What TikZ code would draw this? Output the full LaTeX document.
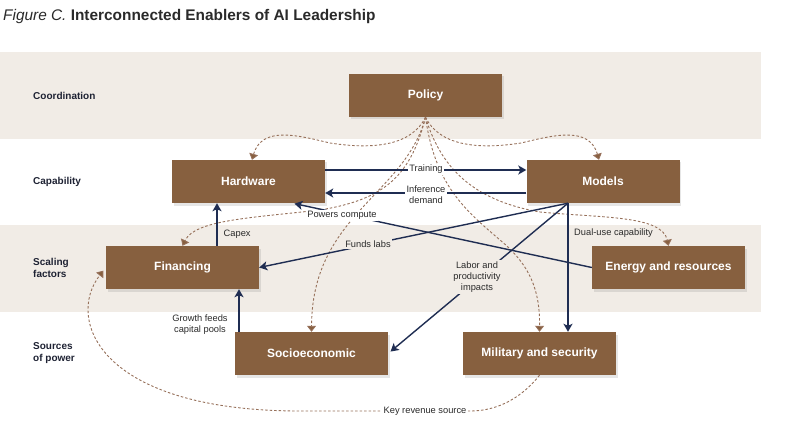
\documentclass[tikz,border=0pt]{standalone}
\usepackage{fontspec}
\setmainfont{Liberation Sans}
\usetikzlibrary{arrows.meta,shadows}
\definecolor{band}{HTML}{F1ECE6}
\definecolor{boxbrown}{HTML}{87603F}
\definecolor{navy}{HTML}{1F2D52}
\definecolor{dashbrown}{HTML}{96705A}
\definecolor{txt}{HTML}{2A2A2A}
\definecolor{rowtxt}{HTML}{1E2233}
\begin{document}
\begin{tikzpicture}[x=1pt,y=-1pt,
 enabler/.style={fill=boxbrown, text=white, font=\bfseries\fontsize{12}{14}\selectfont, minimum width=153pt, minimum height=43pt, inner sep=0pt, drop shadow={shadow xshift=1.5pt, shadow yshift=-2.5pt, opacity=0.2}},
 rowlabel/.style={anchor=west, align=left, text=rowtxt, font=\bfseries\fontsize{10}{12}\selectfont, inner sep=0pt},
 linklabel/.style={text=txt, font=\fontsize{9.3}{10.8}\selectfont, align=center, inner sep=1.5pt},
 solidlink/.style={draw=navy, line width=1.4pt, -{Stealth[length=8pt,width=9pt,inset=2pt]}},
 influence/.style={draw=dashbrown, line width=0.9pt, dash pattern=on 2.5pt off 2pt, -{Triangle[length=6pt,width=9pt,fill=boxbrown]}},
]
\useasboundingbox (0,0) rectangle (790,433);
\fill[band] (0,52) rectangle (761,139);
\fill[band] (0,225) rectangle (761,312);

\node[anchor=base west, inner sep=0pt, font=\fontsize{15.4}{18}\selectfont, text=txt] (title) at (3,21) {\textit{Figure C.} \textbf{Interconnected Enablers of AI Leadership}};

\node[rowlabel] (rcoord) at (33,96) {Coordination};
\node[rowlabel] (rcap) at (33,182) {Capability};
\node[rowlabel] (rscale) at (33,268) {Scaling\\factors};
\node[rowlabel] (rsrc) at (33,353) {Sources\\of power};

\node[enabler] (pol) at (425.5,95.5) {Policy};
\node[enabler] (hw) at (248.5,181.5) {Hardware};
\node[enabler] (md) at (603,181.5) {Models};
\node[enabler] (fin) at (182.5,267.5) {Financing};
\node[enabler] (en) at (668.5,267.5) {Energy and resources};
\node[enabler] (soc) at (311.5,353.5) {Socioeconomic};
\node[enabler] (mil) at (539.5,353.5) {Military and security};

% dashed influences from Policy
\draw[influence] (pol.south) .. controls (412,145) and (375,150) .. (330,143) .. controls (300,136) and (262,125) .. ([xshift=3.5pt]hw.north);
\draw[influence] (pol.south) .. controls (439,145) and (476,150) .. (521,143) .. controls (551,136) and (589,125) .. ([xshift=-4pt]md.north);
\draw[influence] (pol.south) .. controls (410,180) and (380,200) .. (320,210) .. controls (250,218) and (195,220) .. (fin.north);
\draw[influence] (pol.south) .. controls (405,195) and (312,215) .. (soc.north);
\draw[influence] (pol.south) .. controls (435,185) and (465,210) .. (500,240) .. controls (530,265) and (540,290) .. (mil.north);
\draw[influence] (pol.south) .. controls (440,165) and (470,200) .. (540,212) .. controls (600,218) and (662,215) .. (en.north);
\draw[influence, shorten >=4pt] (mil.south) .. controls (528,390) and (505,411) .. (470,411) -- (300,411) .. controls (100,411) and (65,320) .. (fin.west);

% solid links
\coordinate (mdb) at ([xshift=-35pt]md.south);
\coordinate (capx) at (217,0);
\coordinate (grx) at (239,0);
\draw[solidlink] ([yshift=11.5pt]hw.east) -- ([yshift=11.5pt]md.west);
\draw[solidlink] ([yshift=-11.5pt]md.west) -- ([yshift=-11.5pt]hw.east);
\draw[solidlink, shorten >=2pt] (en.west) -- ([xshift=44pt]hw.south);
\draw[solidlink] (mdb) -- (fin.east);
\draw[solidlink, shorten >=3pt] (mdb) -- (soc.east);
\draw[solidlink] (mdb) -- (mdb |- mil.north);
\draw[solidlink] (capx |- fin.north) -- (capx |- hw.south);
\draw[solidlink] (grx |- soc.north) -- (grx |- fin.south);

% labels
\node[linklabel, fill=white] (ltrain) at (426,169.5) {Training};
\node[linklabel, fill=white] (linf) at (426,195) {Inference\\demand};
\node[linklabel, fill=white] (lpow) at (342,215.5) {Powers compute};
\node[linklabel, fill=band] (lfund) at (368,244) {Funds labs};
\node[linklabel, fill=band] (llab) at (477,277) {Labor and\\productivity\\impacts};
\node[linklabel, anchor=west] (lcap) at (222,234) {Capex};
\node[linklabel] (lgrow) at (200,324.5) {Growth feeds\\capital pools};
\node[linklabel] (ldual) at (613.5,233.5) {Dual-use capability};
\node[linklabel, fill=white] (lkey) at (425,411) {Key revenue source};
\end{tikzpicture}
\end{document}
